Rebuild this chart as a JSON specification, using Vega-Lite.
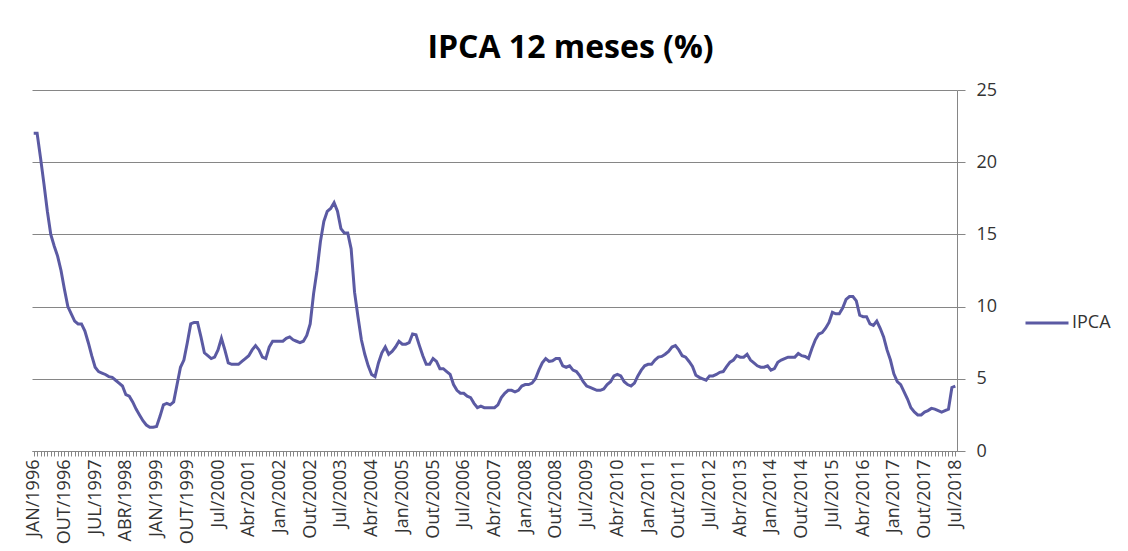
{
"$schema": "https://vega.github.io/schema/vega-lite/v6.json",
"width": 925, "height": 361,
"autosize": "none",
"padding": {"left": 32, "top": 90, "right": 171, "bottom": 100},
"background": "white",
"title": {"text": "IPCA 12 meses (%)", "font": "Open Sans", "fontSize": 32, "fontWeight": "bold", "color": "#000000", "anchor": "middle", "frame": "group", "dx": 76, "offset": 16},
"config": {"view": {"stroke": null}},
"data": {"values": [
{"m":"JAN/1996","v":22.0},{"m":"FEV/1996","v":22.0},{"m":"MAR/1996","v":20.3},{"m":"ABR/1996","v":18.5},{"m":"MAI/1996","v":16.6},{"m":"JUN/1996","v":15.0},{"m":"JUL/1996","v":14.2},{"m":"AGO/1996","v":13.5},{"m":"SET/1996","v":12.5},{"m":"OUT/1996","v":11.2},{"m":"NOV/1996","v":10.0},{"m":"DEZ/1996","v":9.5},
{"m":"JAN/1997","v":9.0},{"m":"FEV/1997","v":8.8},{"m":"MAR/1997","v":8.8},{"m":"ABR/1997","v":8.3},{"m":"MAI/1997","v":7.5},{"m":"JUN/1997","v":6.6},{"m":"JUL/1997","v":5.8},{"m":"AGO/1997","v":5.5},{"m":"SET/1997","v":5.4},{"m":"OUT/1997","v":5.3},{"m":"NOV/1997","v":5.15},{"m":"DEZ/1997","v":5.1},
{"m":"JAN/1998","v":4.9},{"m":"FEV/1998","v":4.7},{"m":"MAR/1998","v":4.5},{"m":"ABR/1998","v":3.9},{"m":"MAI/1998","v":3.8},{"m":"JUN/1998","v":3.4},{"m":"JUL/1998","v":2.9},{"m":"AGO/1998","v":2.5},{"m":"SET/1998","v":2.1},{"m":"OUT/1998","v":1.8},{"m":"NOV/1998","v":1.65},{"m":"DEZ/1998","v":1.65},
{"m":"JAN/1999","v":1.7},{"m":"FEV/1999","v":2.4},{"m":"MAR/1999","v":3.2},{"m":"ABR/1999","v":3.3},{"m":"MAI/1999","v":3.2},{"m":"JUN/1999","v":3.4},{"m":"JUL/1999","v":4.6},{"m":"AGO/1999","v":5.8},{"m":"SET/1999","v":6.3},{"m":"OUT/1999","v":7.5},{"m":"NOV/1999","v":8.8},{"m":"DEZ/1999","v":8.9},
{"m":"Jan/2000","v":8.9},{"m":"Fev/2000","v":7.9},{"m":"Mar/2000","v":6.8},{"m":"Abr/2000","v":6.6},{"m":"Mai/2000","v":6.4},{"m":"Jun/2000","v":6.5},{"m":"Jul/2000","v":7.0},{"m":"Ago/2000","v":7.8},{"m":"Set/2000","v":7.0},{"m":"Out/2000","v":6.1},{"m":"Nov/2000","v":6.0},{"m":"Dez/2000","v":6.0},
{"m":"Jan/2001","v":6.0},{"m":"Fev/2001","v":6.2},{"m":"Mar/2001","v":6.4},{"m":"Abr/2001","v":6.6},{"m":"Mai/2001","v":7.0},{"m":"Jun/2001","v":7.3},{"m":"Jul/2001","v":7.0},{"m":"Ago/2001","v":6.5},{"m":"Set/2001","v":6.4},{"m":"Out/2001","v":7.2},{"m":"Nov/2001","v":7.6},{"m":"Dez/2001","v":7.6},
{"m":"Jan/2002","v":7.6},{"m":"Fev/2002","v":7.6},{"m":"Mar/2002","v":7.8},{"m":"Abr/2002","v":7.9},{"m":"Mai/2002","v":7.7},{"m":"Jun/2002","v":7.6},{"m":"Jul/2002","v":7.5},{"m":"Ago/2002","v":7.6},{"m":"Set/2002","v":8.0},{"m":"Out/2002","v":8.8},{"m":"Nov/2002","v":10.9},{"m":"Dez/2002","v":12.5},
{"m":"Jan/2003","v":14.5},{"m":"Fev/2003","v":15.9},{"m":"Mar/2003","v":16.6},{"m":"Abr/2003","v":16.8},{"m":"Mai/2003","v":17.2},{"m":"Jun/2003","v":16.6},{"m":"Jul/2003","v":15.4},{"m":"Ago/2003","v":15.1},{"m":"Set/2003","v":15.1},{"m":"Out/2003","v":14.0},{"m":"Nov/2003","v":11.0},{"m":"Dez/2003","v":9.3},
{"m":"Jan/2004","v":7.7},{"m":"Fev/2004","v":6.7},{"m":"Mar/2004","v":5.9},{"m":"Abr/2004","v":5.3},{"m":"Mai/2004","v":5.15},{"m":"Jun/2004","v":6.1},{"m":"Jul/2004","v":6.8},{"m":"Ago/2004","v":7.2},{"m":"Set/2004","v":6.7},{"m":"Out/2004","v":6.9},{"m":"Nov/2004","v":7.2},{"m":"Dez/2004","v":7.6},
{"m":"Jan/2005","v":7.4},{"m":"Fev/2005","v":7.4},{"m":"Mar/2005","v":7.5},{"m":"Abr/2005","v":8.1},{"m":"Mai/2005","v":8.05},{"m":"Jun/2005","v":7.3},{"m":"Jul/2005","v":6.6},{"m":"Ago/2005","v":6.0},{"m":"Set/2005","v":6.0},{"m":"Out/2005","v":6.4},{"m":"Nov/2005","v":6.2},{"m":"Dez/2005","v":5.7},
{"m":"Jan/2006","v":5.7},{"m":"Fev/2006","v":5.5},{"m":"Mar/2006","v":5.3},{"m":"Abr/2006","v":4.6},{"m":"Mai/2006","v":4.2},{"m":"Jun/2006","v":4.0},{"m":"Jul/2006","v":4.0},{"m":"Ago/2006","v":3.8},{"m":"Set/2006","v":3.7},{"m":"Out/2006","v":3.3},{"m":"Nov/2006","v":3.0},{"m":"Dez/2006","v":3.1},
{"m":"Jan/2007","v":3.0},{"m":"Fev/2007","v":3.0},{"m":"Mar/2007","v":3.0},{"m":"Abr/2007","v":3.0},{"m":"Mai/2007","v":3.2},{"m":"Jun/2007","v":3.7},{"m":"Jul/2007","v":4.0},{"m":"Ago/2007","v":4.2},{"m":"Set/2007","v":4.2},{"m":"Out/2007","v":4.1},{"m":"Nov/2007","v":4.2},{"m":"Dez/2007","v":4.5},
{"m":"Jan/2008","v":4.6},{"m":"Fev/2008","v":4.6},{"m":"Mar/2008","v":4.7},{"m":"Abr/2008","v":5.0},{"m":"Mai/2008","v":5.6},{"m":"Jun/2008","v":6.1},{"m":"Jul/2008","v":6.4},{"m":"Ago/2008","v":6.2},{"m":"Set/2008","v":6.25},{"m":"Out/2008","v":6.4},{"m":"Nov/2008","v":6.4},{"m":"Dez/2008","v":5.9},
{"m":"Jan/2009","v":5.8},{"m":"Fev/2009","v":5.9},{"m":"Mar/2009","v":5.6},{"m":"Abr/2009","v":5.5},{"m":"Mai/2009","v":5.2},{"m":"Jun/2009","v":4.8},{"m":"Jul/2009","v":4.5},{"m":"Ago/2009","v":4.4},{"m":"Set/2009","v":4.3},{"m":"Out/2009","v":4.2},{"m":"Nov/2009","v":4.2},{"m":"Dez/2009","v":4.3},
{"m":"Jan/2010","v":4.6},{"m":"Fev/2010","v":4.8},{"m":"Mar/2010","v":5.2},{"m":"Abr/2010","v":5.3},{"m":"Mai/2010","v":5.2},{"m":"Jun/2010","v":4.8},{"m":"Jul/2010","v":4.6},{"m":"Ago/2010","v":4.5},{"m":"Set/2010","v":4.7},{"m":"Out/2010","v":5.2},{"m":"Nov/2010","v":5.6},{"m":"Dez/2010","v":5.9},
{"m":"Jan/2011","v":6.0},{"m":"Fev/2011","v":6.0},{"m":"Mar/2011","v":6.3},{"m":"Abr/2011","v":6.5},{"m":"Mai/2011","v":6.55},{"m":"Jun/2011","v":6.7},{"m":"Jul/2011","v":6.9},{"m":"Ago/2011","v":7.2},{"m":"Set/2011","v":7.3},{"m":"Out/2011","v":7.0},{"m":"Nov/2011","v":6.6},{"m":"Dez/2011","v":6.5},
{"m":"Jan/2012","v":6.2},{"m":"Fev/2012","v":5.85},{"m":"Mar/2012","v":5.25},{"m":"Abr/2012","v":5.1},{"m":"Mai/2012","v":5.0},{"m":"Jun/2012","v":4.9},{"m":"Jul/2012","v":5.2},{"m":"Ago/2012","v":5.2},{"m":"Set/2012","v":5.3},{"m":"Out/2012","v":5.45},{"m":"Nov/2012","v":5.5},{"m":"Dez/2012","v":5.84},
{"m":"Jan/2013","v":6.15},{"m":"Fev/2013","v":6.3},{"m":"Mar/2013","v":6.6},{"m":"Abr/2013","v":6.5},{"m":"Mai/2013","v":6.5},{"m":"Jun/2013","v":6.7},{"m":"Jul/2013","v":6.3},{"m":"Ago/2013","v":6.1},{"m":"Set/2013","v":5.9},{"m":"Out/2013","v":5.8},{"m":"Nov/2013","v":5.8},{"m":"Dez/2013","v":5.9},
{"m":"Jan/2014","v":5.6},{"m":"Fev/2014","v":5.7},{"m":"Mar/2014","v":6.15},{"m":"Abr/2014","v":6.3},{"m":"Mai/2014","v":6.4},{"m":"Jun/2014","v":6.5},{"m":"Jul/2014","v":6.5},{"m":"Ago/2014","v":6.5},{"m":"Set/2014","v":6.75},{"m":"Out/2014","v":6.6},{"m":"Nov/2014","v":6.55},{"m":"Dez/2014","v":6.4},
{"m":"Jan/2015","v":7.1},{"m":"Fev/2015","v":7.7},{"m":"Mar/2015","v":8.1},{"m":"Abr/2015","v":8.2},{"m":"Mai/2015","v":8.5},{"m":"Jun/2015","v":8.9},{"m":"Jul/2015","v":9.6},{"m":"Ago/2015","v":9.5},{"m":"Set/2015","v":9.5},{"m":"Out/2015","v":9.9},{"m":"Nov/2015","v":10.5},{"m":"Dez/2015","v":10.7},
{"m":"Jan/2016","v":10.7},{"m":"Fev/2016","v":10.4},{"m":"Mar/2016","v":9.4},{"m":"Abr/2016","v":9.3},{"m":"Mai/2016","v":9.3},{"m":"Jun/2016","v":8.8},{"m":"Jul/2016","v":8.7},{"m":"Ago/2016","v":9.0},{"m":"Set/2016","v":8.5},{"m":"Out/2016","v":7.9},{"m":"Nov/2016","v":7.0},{"m":"Dez/2016","v":6.3},
{"m":"Jan/2017","v":5.35},{"m":"Fev/2017","v":4.8},{"m":"Mar/2017","v":4.6},{"m":"Abr/2017","v":4.1},{"m":"Mai/2017","v":3.6},{"m":"Jun/2017","v":3.0},{"m":"Jul/2017","v":2.7},{"m":"Ago/2017","v":2.5},{"m":"Set/2017","v":2.5},{"m":"Out/2017","v":2.7},{"m":"Nov/2017","v":2.8},{"m":"Dez/2017","v":2.95},
{"m":"Jan/2018","v":2.9},{"m":"Fev/2018","v":2.8},{"m":"Mar/2018","v":2.7},{"m":"Abr/2018","v":2.8},{"m":"Mai/2018","v":2.9},{"m":"Jun/2018","v":4.4},{"m":"Jul/2018","v":4.5}
]},
"mark": {"type": "line", "strokeWidth": 3},
"encoding": {
  "x": {"field": "m", "type": "nominal", "sort": null,
        "scale": {"type": "point", "padding": 0.5},
        "axis": {"title": null, "labelAngle": -90, "labelFont": "Open Sans", "labelFontSize": 18, "labelColor": "#333333",
                 "labelPadding": 3, "tickSize": 5, "tickColor": "#868686", "domainColor": "#868686", "labelOverlap": false, "labelBound": false,
                 "labelExpr": "indexof(['JAN/1996','OUT/1996','JUL/1997','ABR/1998','JAN/1999','OUT/1999','Jul/2000','Abr/2001','Jan/2002','Out/2002','Jul/2003','Abr/2004','Jan/2005','Out/2005','Jul/2006','Abr/2007','Jan/2008','Out/2008','Jul/2009','Abr/2010','Jan/2011','Out/2011','Jul/2012','Abr/2013','Jan/2014','Out/2014','Jul/2015','Abr/2016','Jan/2017','Out/2017','Jul/2018'], datum.value) >= 0 ? datum.value : ''"}},
  "y": {"field": "v", "type": "quantitative", "scale": {"domain": [0, 25]},
        "axis": {"orient": "right", "title": null, "values": [0, 5, 10, 15, 20, 25], "grid": true, "gridColor": "#868686",
                 "tickSize": 8, "tickColor": "#868686", "domainColor": "#868686", "labelPadding": 11,
                 "labelFont": "Open Sans", "labelFontSize": 18, "labelColor": "#333333"}},
  "color": {"datum": "IPCA", "scale": {"range": ["#5b5aa3"]},
            "legend": {"title": null, "orient": "none", "legendX": 992, "legendY": 210, "symbolType": "stroke", "symbolSize": 1849,
                       "symbolStrokeWidth": 3, "labelFont": "Open Sans", "labelFontSize": 18, "labelColor": "#333333", "labelOffset": 2, "padding": 0}}
}
}
